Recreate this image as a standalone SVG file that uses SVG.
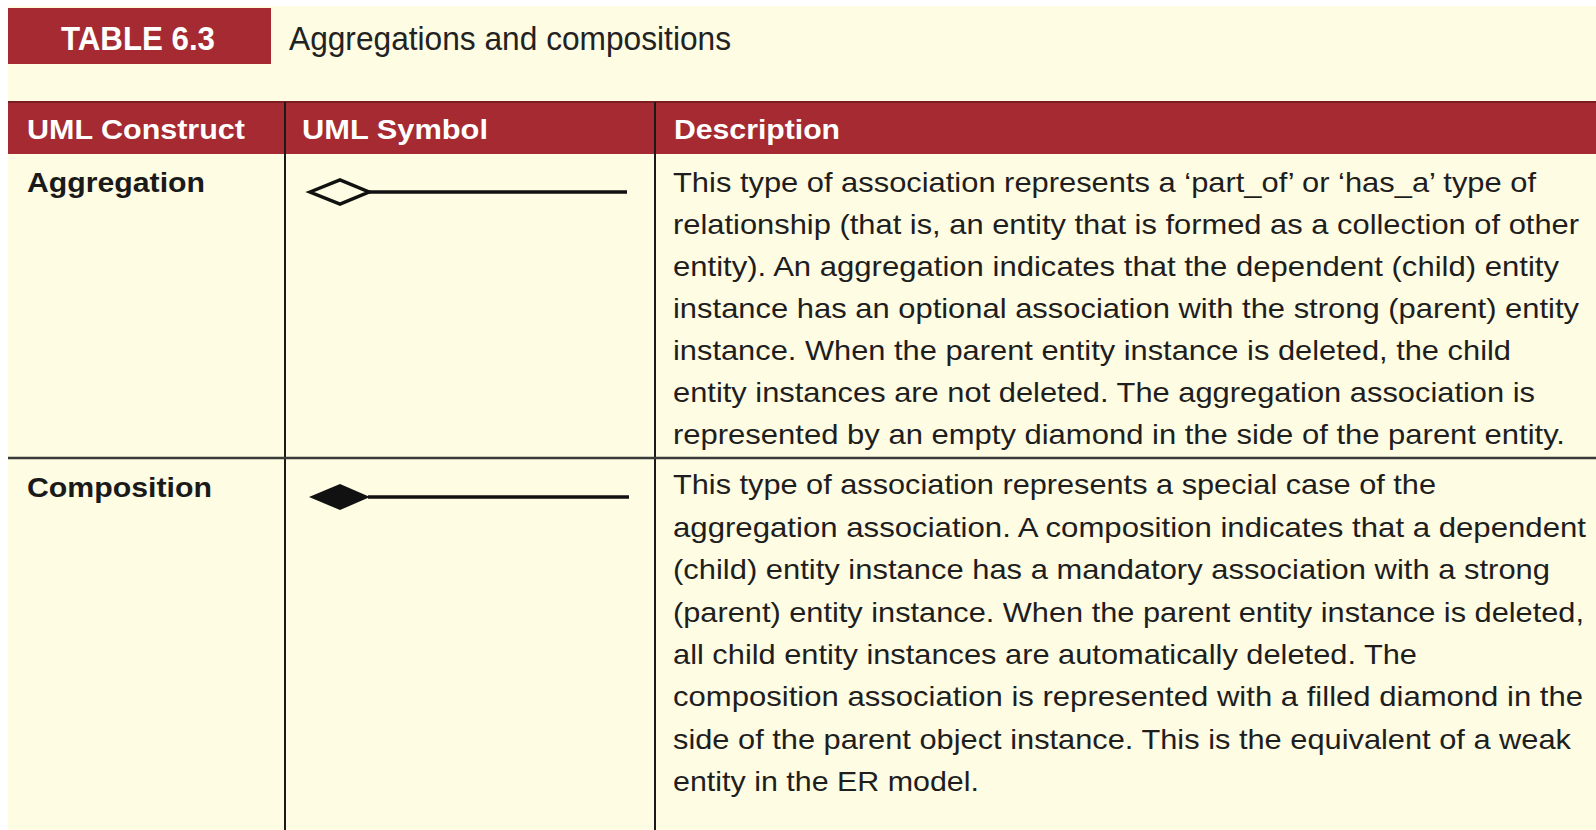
<svg xmlns="http://www.w3.org/2000/svg" width="1596" height="830" viewBox="0 0 1596 830">
<style>
.bg{fill:#fefce3}
.red{fill:#a52a32}
.hd{font-family:"Liberation Sans",Arial,sans-serif;font-weight:bold;font-size:28px;fill:#ffffff}
.ttl{font-family:"Liberation Sans",Arial,sans-serif;font-weight:bold;font-size:33px;fill:#ffffff}
.sub{font-family:"Liberation Sans",Arial,sans-serif;font-size:33px;fill:#222222}
.nm{font-family:"Liberation Sans",Arial,sans-serif;font-weight:bold;font-size:28px;fill:#1a1a1a}
.ds{font-family:"Liberation Sans",Arial,sans-serif;font-size:28px;fill:#1e1e1e}
.grid{stroke:#1a1a1a;stroke-width:2;fill:none}
.sym{stroke:#111111;stroke-width:3.5;fill:none}
</style>
<rect x="0" y="0" width="1596" height="830" fill="#ffffff"/>
<rect class="bg" x="8" y="6" width="1588" height="824"/>

<g id="title">
  <rect class="red" x="8" y="8" width="263" height="56"/>
  <text class="ttl" x="61" y="50" textLength="154" lengthAdjust="spacingAndGlyphs">TABLE 6.3</text>
  <text class="sub" x="289" y="50" textLength="442" lengthAdjust="spacingAndGlyphs">Aggregations and compositions</text>
</g>

<g id="header">
  <rect class="red" x="8" y="102" width="1588" height="52"/>
  <line x1="8" y1="102" x2="1596" y2="102" stroke="#7a1e24" stroke-width="2"/>
  <text class="hd" x="27" y="139" textLength="218" lengthAdjust="spacingAndGlyphs">UML Construct</text>
  <text class="hd" x="302" y="139" textLength="186" lengthAdjust="spacingAndGlyphs">UML Symbol</text>
  <text class="hd" x="674" y="139" textLength="166" lengthAdjust="spacingAndGlyphs">Description</text>
</g>

<g id="grid">
  <line class="grid" x1="285" y1="102" x2="285" y2="830"/>
  <line class="grid" x1="655" y1="102" x2="655" y2="830"/>
  <line x1="8" y1="458" x2="1596" y2="458" stroke="#3a3a3a" stroke-width="2.5"/>
</g>

<g id="aggregation">
  <text class="nm" x="27" y="192" textLength="178" lengthAdjust="spacingAndGlyphs">Aggregation</text>
  <g id="aggregation-symbol">
    <polygon class="sym" points="310,192 340,180 369,192 340,204" fill="#fefce3" stroke-width="2.5"/>
    <line class="sym" x1="369" y1="192" x2="627" y2="192"/>
  </g>
  <g id="aggregation-desc">
    <text class="ds" x="673" y="192" textLength="863" lengthAdjust="spacingAndGlyphs">This type of association represents a ‘part_of’ or ‘has_a’ type of</text>
    <text class="ds" x="673" y="234" textLength="906" lengthAdjust="spacingAndGlyphs">relationship (that is, an entity that is formed as a collection of other</text>
    <text class="ds" x="673" y="276" textLength="886" lengthAdjust="spacingAndGlyphs">entity). An aggregation indicates that the dependent (child) entity</text>
    <text class="ds" x="673" y="318" textLength="906" lengthAdjust="spacingAndGlyphs">instance has an optional association with the strong (parent) entity</text>
    <text class="ds" x="673" y="360" textLength="838" lengthAdjust="spacingAndGlyphs">instance. When the parent entity instance is deleted, the child</text>
    <text class="ds" x="673" y="402" textLength="862" lengthAdjust="spacingAndGlyphs">entity instances are not deleted. The aggregation association is</text>
    <text class="ds" x="673" y="444" textLength="892" lengthAdjust="spacingAndGlyphs">represented by an empty diamond in the side of the parent entity.</text>
  </g>
</g>

<g id="composition">
  <text class="nm" x="27" y="497" textLength="185" lengthAdjust="spacingAndGlyphs">Composition</text>
  <g id="composition-symbol">
    <polygon points="309,497 340,484 370,497 340,510" fill="#111111"/>
    <line class="sym" x1="368" y1="497" x2="629" y2="497"/>
  </g>
  <g id="composition-desc">
    <text class="ds" x="673" y="494" textLength="763" lengthAdjust="spacingAndGlyphs">This type of association represents a special case of the</text>
    <text class="ds" x="673" y="537" textLength="913" lengthAdjust="spacingAndGlyphs">aggregation association. A composition indicates that a dependent</text>
    <text class="ds" x="673" y="579" textLength="877" lengthAdjust="spacingAndGlyphs">(child) entity instance has a mandatory association with a strong</text>
    <text class="ds" x="673" y="622" textLength="911" lengthAdjust="spacingAndGlyphs">(parent) entity instance. When the parent entity instance is deleted,</text>
    <text class="ds" x="673" y="664" textLength="744" lengthAdjust="spacingAndGlyphs">all child entity instances are automatically deleted. The</text>
    <text class="ds" x="673" y="706" textLength="910" lengthAdjust="spacingAndGlyphs">composition association is represented with a filled diamond in the</text>
    <text class="ds" x="673" y="749" textLength="898" lengthAdjust="spacingAndGlyphs">side of the parent object instance. This is the equivalent of a weak</text>
    <text class="ds" x="673" y="791" textLength="306" lengthAdjust="spacingAndGlyphs">entity in the ER model.</text>
  </g>
</g>
</svg>
